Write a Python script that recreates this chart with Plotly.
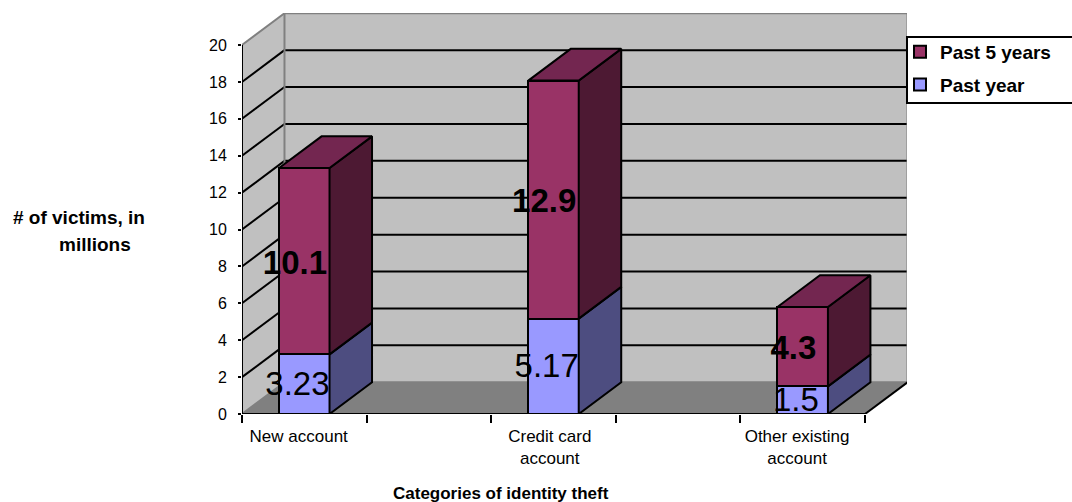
import plotly.graph_objects as go

# ---- data ----
categories = ["New account", "Credit card<br>account", "Other existing<br>account"]
past_year = [3.23, 5.17, 1.5]
past_5_years = [10.1, 12.9, 4.3]
y_ticks = [0, 2, 4, 6, 8, 10, 12, 14, 16, 18, 20]
series_names = ["Past year", "Past 5 years"]

# ---- geometry of the oblique chart, in axis units ----
X_POS = [0.5, 2.5, 4.5]
X_TICKS = [0, 1, 2, 3, 4, 5]
LABEL_NUDGE = [-0.045, -0.03, -0.045]
BAR_W = 0.405
DX = 0.341
DY = 1.72
X_END = 5
Y_END = 20

W, H = 1072, 502
L, R, T, B = 242, 907, 13, 414
X_MAX = (R - L) / 124.6
Y_MAX = (B - T) / 18.45

BLACK = "#000000"
GRAY = "#808080"
WALL = "#C0C0C0"
FLOOR = "#808080"
FONT = "Liberation Sans, Arial, sans-serif"


def poly(points):
    return "M " + " L ".join(f"{x} {y}" for x, y in points) + " Z"


def region(points, fill, line=None, width=0):
    return dict(type="path", path=poly(points), xref="x", yref="y", layer="below",
                fillcolor=fill, line=dict(color=line or fill, width=width))


def seg(x0, y0, x1, y1, color, width):
    return dict(type="line", x0=x0, y0=y0, x1=x1, y1=y1, xref="x", yref="y",
                layer="below", line=dict(color=color, width=width))


shapes = [
    region([(DX, DY), (X_END + DX, DY), (X_END + DX, Y_END + DY), (DX, Y_END + DY)], WALL),
    region([(0, 0), (DX, DY), (DX, Y_END + DY), (0, Y_END)], WALL),
    region([(0, 0), (X_END, 0), (X_END + DX, DY), (DX, DY)], FLOOR),
]
for v in y_ticks[1:-1]:
    shapes.append(seg(0, v, DX, v + DY, BLACK, 2))
    shapes.append(seg(DX, v + DY, X_END + DX, v + DY, BLACK, 2))
shapes += [
    seg(0, Y_END, DX, Y_END + DY, GRAY, 2),
    seg(DX, Y_END + DY, X_END + DX, Y_END + DY, GRAY, 2),
    seg(DX, DY, DX, Y_END + DY, GRAY, 2),
    seg(X_END + DX, DY, X_END + DX, Y_END + DY, GRAY, 2),
    seg(DX, DY, X_END + DX, DY, GRAY, 2),
    seg(0, 0, DX, DY, GRAY, 2),
    seg(X_END, 0, X_END + DX, DY, BLACK, 2),
    seg(0, 0, 0, Y_END, BLACK, 2),
    seg(0, 0, X_END, 0, BLACK, 2),
]
# legend frame, running off the right edge of the picture as in the reference
shapes.append(dict(type="rect", xref="paper", yref="paper", layer="above",
                   x0=1, x1=(1090 - L) / (R - L),
                   y0=(B - 103) / (B - T), y1=(B - 37) / (B - T),
                   fillcolor="white", line=dict(color=BLACK, width=2)))

fig = go.Figure()

# front faces
fig.add_trace(go.Bar(x=X_POS, y=past_year, name=series_names[0], width=BAR_W,
                     legendgroup="a", legendrank=2,
                     marker=dict(color="#9999FF", line=dict(color=BLACK, width=2))))
fig.add_trace(go.Bar(x=X_POS, y=past_5_years, name=series_names[1], width=BAR_W,
                     legendgroup="b", legendrank=1,
                     marker=dict(color="#993366", line=dict(color=BLACK, width=2))))


def face(points, fill):
    xs = [p[0] for p in points] + [points[0][0]]
    ys = [p[1] for p in points] + [points[0][1]]
    fig.add_trace(go.Scatter(x=xs, y=ys, mode="lines", fill="toself", fillcolor=fill,
                             line=dict(color=BLACK, width=2), showlegend=False,
                             hoverinfo="skip"))


# side and top faces, derived from the values
for xc, a, b in zip(X_POS, past_year, past_5_years):
    xl, xr = xc - BAR_W / 2, xc + BAR_W / 2
    face([(xr, 0), (xr + DX, DY), (xr + DX, a + DY), (xr, a)], "#4D4D80")
    face([(xr, a), (xr + DX, a + DY), (xr + DX, a + b + DY), (xr, a + b)], "#4D1933")
    face([(xl, a + b), (xr, a + b), (xr + DX, a + b + DY), (xl + DX, a + b + DY)], "#732650")

# data labels, centred on each segment with a small nudge
fig.add_trace(go.Scatter(
    x=[x - 0.055 for x in X_POS], y=[v / 2 - 0.14 for v in past_year],
    text=[str(v) for v in past_year], mode="text", textposition="middle center",
    textfont=dict(family=FONT, size=33, color=BLACK), showlegend=False, hoverinfo="skip"))
fig.add_trace(go.Scatter(
    x=[x - 0.075 for x in X_POS],
    y=[a + b / 2 - 0.22 for a, b in zip(past_year, past_5_years)],
    text=[f"<b>{v}</b>" for v in past_5_years], mode="text", textposition="middle center",
    textfont=dict(family=FONT, size=33, color=BLACK), showlegend=False, hoverinfo="skip"))


def note_px(text, px, py, size=17):
    return dict(text=f"<b>{text}</b>", x=(px - L) / (R - L), y=(B - py) / (B - T),
                xref="paper", yref="paper", xanchor="center", yanchor="middle",
                showarrow=False, font=dict(family=FONT, size=size, color=BLACK))


fig.update_layout(
    width=W, height=H, margin=dict(l=L, r=W - R, t=T, b=H - B, autoexpand=False),
    paper_bgcolor="white", plot_bgcolor="white",
    barmode="stack", showlegend=True, shapes=shapes,
    font=dict(family=FONT, color=BLACK),
    xaxis=dict(range=[0, X_MAX], tickmode="array",
               tickvals=[x + n for x, n in zip(X_POS, LABEL_NUDGE)], ticktext=categories,
               ticks="", showgrid=False, zeroline=False, showline=False,
               ticklabelstandoff=10,
               tickfont=dict(family=FONT, size=17, color=BLACK), tickangle=0,
               minor=dict(tickmode="array", tickvals=X_TICKS, ticks="outside", ticklen=8,
                          tickwidth=2, tickcolor=BLACK, showgrid=False)),
    yaxis=dict(range=[0, Y_MAX], tickmode="array", tickvals=y_ticks, ticks="outside",
               ticklen=3, tickwidth=2, tickcolor=BLACK, showgrid=False, zeroline=False,
               showline=False, ticklabelstandoff=8,
               tickfont=dict(family=FONT, size=16, color=BLACK)),
    legend=dict(x=(900 - L) / (R - L), y=(B - 33) / (B - T), xanchor="left", yanchor="top",
                bgcolor="rgba(0,0,0,0)", borderwidth=0, traceorder="grouped",
                tracegroupgap=5, entrywidth=140, entrywidthmode="pixels",
                font=dict(family=FONT, size=19, color=BLACK, weight="bold")),
    annotations=[
        note_px("Categories of identity theft", 501, 493),
        note_px("# of victims, in", 78.5, 217, 19),
        note_px("millions", 94.5, 244, 19),
    ],
)

fig.write_html("out.html", config=dict(displayModeBar=False),
               post_script="document.body.style.margin='0';")
